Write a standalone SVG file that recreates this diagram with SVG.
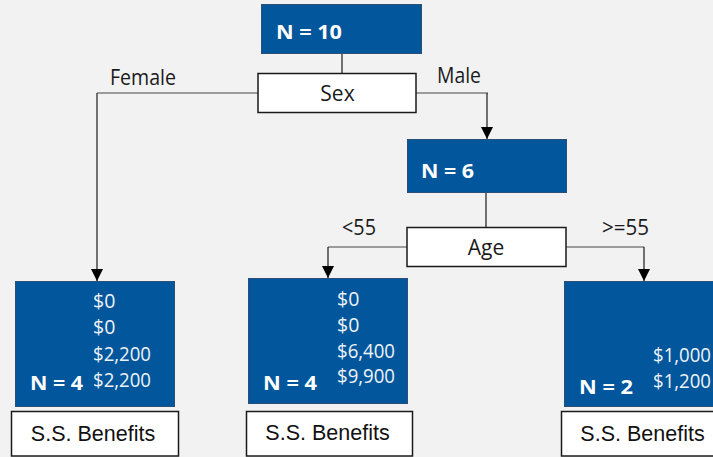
<svg xmlns="http://www.w3.org/2000/svg" width="713" height="457" viewBox="0 0 713 457">
<style>
.bg{fill:#f2f2f2}
.blue{fill:#02569b;stroke:#2b4f77;stroke-width:1}
.wbox{fill:#ffffff;stroke:#1a1a1a;stroke-width:1.5}
.nl{font-family:"Open Sans","Noto Sans",sans-serif;font-weight:bold;font-size:20px;fill:#ffffff}
.val{font-family:"Open Sans","Noto Sans",sans-serif;font-size:19.5px;fill:#eef3f8}
.lbl{font-family:"Open Sans","Noto Sans",sans-serif;font-size:21px;fill:#1a1a1a}
.ss{font-family:"Liberation Sans",Arial,sans-serif;font-size:21.5px;fill:#111111}
.h{stroke:#7f7f7f;stroke-width:1.3;fill:none}
.v{stroke:#1a1a1a;stroke-width:1.2;fill:none}
</style>
<defs>
<marker id="arr" markerUnits="userSpaceOnUse" markerWidth="12" markerHeight="12" refX="6" refY="12" orient="0" viewBox="0 0 12 12">
<path d="M0,0 L12,0 L6,12 Z" fill="#000000"/>
</marker>
</defs>
<rect class="bg" x="0" y="0" width="713" height="457"/>

<g id="connectors">
<line class="v" x1="342" y1="54" x2="342" y2="73"/>
<line class="h" x1="258" y1="93" x2="97" y2="93"/>
<line class="v" x1="97" y1="93" x2="97" y2="281" marker-end="url(#arr)"/>
<line class="h" x1="416" y1="93" x2="488" y2="93"/>
<line class="v" x1="487" y1="93" x2="487" y2="139" marker-end="url(#arr)"/>
<line class="v" x1="486" y1="193" x2="486" y2="227"/>
<line class="h" x1="407" y1="247" x2="328" y2="247"/>
<line class="v" x1="328" y1="247" x2="328" y2="278" marker-end="url(#arr)"/>
<line class="h" x1="566" y1="247" x2="644" y2="247"/>
<line class="v" x1="644" y1="247" x2="644" y2="281" marker-end="url(#arr)"/>
<text class="lbl" x="110" y="85" textLength="66" lengthAdjust="spacingAndGlyphs">Female</text>
<text class="lbl" x="437" y="83" textLength="44" lengthAdjust="spacingAndGlyphs">Male</text>
<text class="lbl" x="342" y="235" textLength="34" lengthAdjust="spacingAndGlyphs">&lt;55</text>
<text class="lbl" x="602" y="235" textLength="47" lengthAdjust="spacingAndGlyphs">&gt;=55</text>
</g>

<g id="root">
<rect class="blue" x="261.5" y="4.5" width="160" height="49"/>
<text class="nl" x="276" y="39" textLength="66" lengthAdjust="spacingAndGlyphs">N = 10</text>
</g>

<g id="sex">
<rect class="wbox" x="258" y="73.5" width="158" height="39"/>
<text class="lbl" x="337.5" y="101" text-anchor="middle">Sex</text>
</g>

<g id="node6">
<rect class="blue" x="407.5" y="139.5" width="159" height="53"/>
<text class="nl" x="421" y="178" textLength="53" lengthAdjust="spacingAndGlyphs">N = 6</text>
</g>

<g id="age">
<rect class="wbox" x="407" y="227.5" width="159" height="39"/>
<text class="lbl" x="486" y="255" text-anchor="middle">Age</text>
</g>

<g id="leaf1">
<rect class="blue" x="15.5" y="281.5" width="159" height="125"/>
<text class="val" x="93" y="308">$0</text>
<text class="val" x="93" y="334">$0</text>
<text class="val" x="93" y="361" textLength="58" lengthAdjust="spacingAndGlyphs">$2,200</text>
<text class="val" x="93" y="387" textLength="58" lengthAdjust="spacingAndGlyphs">$2,200</text>
<text class="nl" x="30" y="390" textLength="53" lengthAdjust="spacingAndGlyphs">N = 4</text>
</g>
<g id="ss1">
<rect class="wbox" x="11.5" y="411.5" width="167" height="44.5"/>
<text class="ss" x="93" y="441" text-anchor="middle">S.S. Benefits</text>
</g>

<g id="leaf2">
<rect class="blue" x="248.5" y="278.5" width="159" height="125"/>
<text class="val" x="337" y="306">$0</text>
<text class="val" x="337" y="332">$0</text>
<text class="val" x="337" y="358" textLength="58" lengthAdjust="spacingAndGlyphs">$6,400</text>
<text class="val" x="337" y="383" textLength="58" lengthAdjust="spacingAndGlyphs">$9,900</text>
<text class="nl" x="263" y="390" textLength="54" lengthAdjust="spacingAndGlyphs">N = 4</text>
</g>
<g id="ss2">
<rect class="wbox" x="246.5" y="411.5" width="166" height="44.5"/>
<text class="ss" x="327.5" y="440" text-anchor="middle">S.S. Benefits</text>
</g>

<g id="leaf3">
<rect class="blue" x="564.5" y="281.5" width="160" height="125"/>
<text class="val" x="653" y="362" textLength="58" lengthAdjust="spacingAndGlyphs">$1,000</text>
<text class="val" x="653" y="388" textLength="58" lengthAdjust="spacingAndGlyphs">$1,200</text>
<text class="nl" x="579" y="394" textLength="54" lengthAdjust="spacingAndGlyphs">N = 2</text>
</g>
<g id="ss3">
<rect class="wbox" x="561.5" y="411.5" width="160" height="44.5"/>
<text class="ss" x="642.5" y="441" text-anchor="middle">S.S. Benefits</text>
</g>
</svg>
